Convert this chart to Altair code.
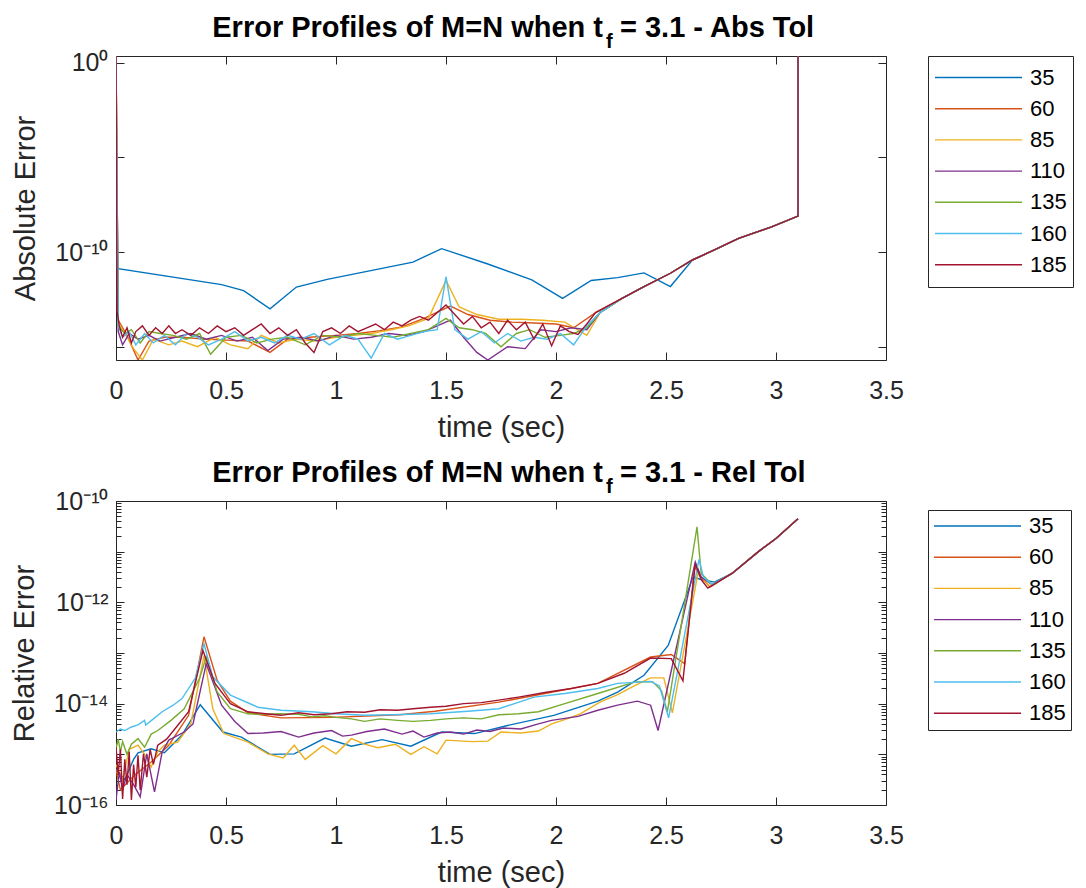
import altair as alt
import pandas as pd

SERIES = ["35", "60", "85", "110", "135", "160", "185"]
COLORS = ["#0072BD", "#D95319", "#EDB120", "#7E2F8E", "#77AC30", "#4DBEEE", "#A2142F"]
X_TICKS = [0, 0.5, 1, 1.5, 2, 2.5, 3, 3.5]

TITLE_ABS = ["Error Profiles of M=N when t", "f", "= 3.1 - Abs Tol"]
TITLE_REL = ["Error Profiles of M=N when t", "f", "= 3.1 - Rel Tol"]

# ---------------- top panel: absolute error (values are log10 exponents) ----------------
ABS_Y_LIMITS = [-15.7, 0.35]
ABS_Y_TICKS = [0, -5, -10, -15]
ABS_Y_LABELS = {0: "10⁰", -10: "10⁻¹⁰"}

ABS_T_35 = [0.0, 0.003, 0.48, 0.58, 0.70, 0.82, 0.96, 1.35, 1.48, 1.69, 1.89, 2.03, 2.16, 2.28, 2.40,
            2.52, 2.62, 2.72, 2.83, 2.98, 3.10, 3.10]
ABS_E_35 = [0.5, -10.87, -11.72, -12.04, -13.0, -11.85, -11.44, -10.53, -9.82, -10.63, -11.47, -12.45,
            -11.5, -11.35, -11.1, -11.82, -10.42, -9.89, -9.28, -8.67, -8.10, 0.5]

ABS_TAIL_T = [2.30, 2.40, 2.52, 2.62, 2.72, 2.83, 2.98, 3.10, 3.10]
ABS_TAIL_E = [-12.45, -11.82, -11.12, -10.42, -9.89, -9.28, -8.67, -8.10, 0.5]

ABS_T_60 = [0.0, 0.01, 0.05, 0.10, 0.15, 0.22, 0.30, 0.40, 0.50, 0.60, 0.70, 0.78, 0.88, 1.00, 1.10,
            1.20, 1.30, 1.40, 1.52, 1.60, 1.70, 1.80, 1.90, 2.00, 2.08, 2.18]
ABS_E_60 = [0.5, -13.6, -14.4, -15.7, -14.7, -14.5, -14.5, -14.6, -14.65, -14.7, -15.3, -14.6, -14.5,
            -14.4, -14.3, -14.15, -13.95, -13.5, -12.85, -13.3, -13.6, -13.7, -13.75, -13.8, -14.0, -13.2]

ABS_T_85 = [0.0, 0.01, 0.05, 0.08, 0.12, 0.17, 0.24, 0.30, 0.37, 0.45, 0.52, 0.60, 0.66, 0.74, 0.82,
            0.90, 1.00, 1.08, 1.16, 1.25, 1.33, 1.42, 1.50, 1.56, 1.64, 1.74, 1.84, 1.94, 2.04, 2.14, 2.20]
ABS_E_85 = [0.5, -13.7, -14.5, -15.1, -15.7, -14.6, -14.9, -14.7, -15.0, -14.5, -14.9, -15.1, -14.4,
            -14.8, -14.6, -14.7, -14.5, -14.4, -14.3, -14.1, -13.9, -13.5, -11.5, -12.9, -13.3, -13.55,
            -13.55, -13.6, -13.7, -14.4, -13.2]

ABS_T_110 = [0.0, 0.01, 0.03, 0.06, 0.10, 0.15, 0.20, 0.27, 0.34, 0.41, 0.48, 0.55, 0.62, 0.69, 0.76,
             0.84, 0.92, 1.00, 1.08, 1.16, 1.24, 1.32, 1.40, 1.46, 1.52, 1.58, 1.64, 1.69, 1.78, 1.86,
             1.93, 2.00, 2.07, 2.14, 2.20]
ABS_E_110 = [0.5, -14.2, -14.9, -14.3, -14.6, -14.4, -14.7, -14.5, -14.3, -14.6, -14.4, -14.7, -14.5,
             -15.2, -14.6, -14.5, -14.7, -14.4, -14.6, -14.5, -14.3, -14.4, -14.2, -13.9, -13.6, -14.5,
             -15.3, -15.7, -15.0, -15.1, -14.1, -14.2, -14.0, -14.1, -13.2]

ABS_T_135 = [0.0, 0.01, 0.04, 0.07, 0.11, 0.15, 0.20, 0.26, 0.32, 0.38, 0.43, 0.50, 0.57, 0.64, 0.71,
             0.78, 0.86, 0.94, 1.02, 1.10, 1.18, 1.26, 1.34, 1.42, 1.50, 1.56, 1.62, 1.68, 1.75, 1.82,
             1.88, 1.95, 2.02, 2.08, 2.14, 2.20]
ABS_E_135 = [0.5, -13.9, -14.3, -14.1, -14.8, -14.2, -14.3, -14.4, -14.6, -14.3, -15.4, -14.5, -14.4,
             -14.8, -14.6, -14.5, -14.9, -14.4, -14.5, -14.3, -14.4, -14.5, -14.3, -14.1, -13.5, -14.0,
             -14.1, -14.3, -15.0, -14.3, -14.1, -14.5, -14.4, -14.3, -14.0, -13.2]

ABS_T_160 = [0.0, 0.01, 0.03, 0.06, 0.09, 0.13, 0.17, 0.22, 0.27, 0.32, 0.37, 0.42, 0.48, 0.54, 0.60,
             0.66, 0.72, 0.78, 0.84, 0.90, 0.97, 1.04, 1.10, 1.16, 1.22, 1.28, 1.34, 1.40, 1.46, 1.50,
             1.54, 1.60, 1.66, 1.72, 1.78, 1.84, 1.90, 1.96, 2.02, 2.08, 2.14, 2.20]
ABS_E_160 = [0.5, -13.9, -14.5, -14.2, -14.9, -14.3, -14.8, -14.4, -14.9, -14.3, -14.5, -14.9, -14.6,
             -14.2, -14.7, -14.5, -14.8, -14.4, -14.6, -14.3, -14.9, -14.4, -14.6, -15.6, -14.3, -14.6,
             -14.4, -14.2, -14.1, -11.3, -14.1, -14.6, -14.2, -14.8, -14.3, -14.7, -14.5, -14.6, -14.3,
             -14.9, -13.9, -13.2]

ABS_T_185 = [0.0, 0.005, 0.015, 0.03, 0.05, 0.07, 0.09, 0.12, 0.15, 0.18, 0.21, 0.24, 0.27, 0.30,
             0.34, 0.38, 0.42, 0.46, 0.50, 0.54, 0.58, 0.62, 0.66, 0.70, 0.74, 0.78, 0.82, 0.86, 0.90,
             0.94, 0.98, 1.02, 1.06, 1.10, 1.14, 1.18, 1.22, 1.26, 1.30, 1.34, 1.38, 1.42, 1.46, 1.50,
             1.54, 1.58, 1.62, 1.66, 1.70, 1.74, 1.78, 1.82, 1.86, 1.90, 1.94, 1.98, 2.02, 2.06, 2.10,
             2.14, 2.18]
ABS_E_185 = [0.5, -13.1, -13.9, -14.5, -14.0, -14.8, -14.2, -13.9, -14.4, -14.0, -14.3, -13.9, -14.3,
             -14.1, -14.4, -14.0, -14.3, -13.9, -14.2, -14.0, -14.4, -14.1, -13.8, -14.3, -14.0, -14.4,
             -14.1, -14.8, -15.3, -14.2, -14.0, -14.3, -13.9, -14.2, -14.0, -13.8, -14.1, -13.7, -13.9,
             -13.6, -13.4, -13.6, -13.2, -12.8, -13.3, -13.8, -13.4, -14.0, -13.7, -14.3, -13.6, -14.1,
             -13.7, -14.6, -13.8, -14.95, -13.9, -14.2, -14.35, -13.8, -13.2]

# ---------------- bottom panel: relative error (log10 exponents) ----------------
REL_Y_LIMITS = [-16, -10]
REL_Y_LABELS = {-10: "10⁻¹⁰", -12: "10⁻¹²", -14: "10⁻¹⁴", -16: "10⁻¹⁶"}
REL_TAIL_T = [2.80, 2.92, 3.00, 3.10]
REL_TAIL_E = [-11.43, -11.0, -10.74, -10.35]

REL_T_35 = [0.0, 0.04, 0.08, 0.10, 0.16, 0.22, 0.30, 0.383, 0.486, 0.57, 0.70, 0.81, 0.95, 1.07, 1.21,
            1.34, 1.48, 1.63, 1.78, 1.99, 2.19, 2.28, 2.40, 2.51, 2.623, 2.66, 2.72]
REL_E_35 = [-15.3, -15.5, -15.1, -14.97, -14.89, -14.97, -14.62, -14.02, -14.56, -14.66, -15.0, -14.99,
            -14.68, -14.84, -14.71, -14.84, -14.56, -14.59, -14.43, -14.23, -13.95, -13.77, -13.44,
            -12.85, -11.5, -11.55, -11.6]

REL_T_60 = [0.0, 0.02, 0.085, 0.16, 0.24, 0.33, 0.40, 0.46, 0.52, 0.60, 0.75, 0.98, 1.29, 1.45, 1.74,
            1.95, 2.19, 2.43, 2.524, 2.585, 2.63, 2.66, 2.70]
REL_E_60 = [-15.3, -15.7, -15.41, -15.15, -14.82, -14.23, -12.68, -13.54, -13.95, -14.18, -14.28,
            -14.27, -14.22, -14.15, -13.97, -13.8, -13.6, -13.08, -13.03, -13.21, -11.3, -11.5, -11.7]

REL_T_85 = [0.0, 0.03, 0.06, 0.10, 0.13, 0.16, 0.19, 0.22, 0.28, 0.34, 0.40, 0.44, 0.49, 0.60, 0.69,
            0.76, 0.81, 0.86, 0.94, 1.00, 1.07, 1.13, 1.19, 1.27, 1.34, 1.40, 1.46, 1.50, 1.62, 1.69,
            1.75, 1.84, 1.92, 1.98, 2.05, 2.11, 2.20, 2.28, 2.36, 2.43, 2.49, 2.529, 2.645, 2.70]
REL_E_85 = [-15.2, -15.5, -14.9, -14.82, -15.0, -15.25, -14.95, -14.82, -14.76, -14.4, -13.05, -14.1,
            -14.59, -14.76, -14.99, -15.07, -14.82, -15.1, -14.83, -14.99, -14.69, -14.8, -14.87, -14.8,
            -15.0, -14.85, -14.99, -14.72, -14.75, -14.74, -14.56, -14.58, -14.54, -14.4, -14.3, -14.2,
            -13.97, -13.82, -13.64, -13.49, -13.49, -14.18, -11.43, -11.68]

REL_T_110 = [0.0, 0.015, 0.03, 0.05, 0.08, 0.11, 0.14, 0.175, 0.21, 0.24, 0.31, 0.35, 0.41, 0.48, 0.54,
             0.60, 0.67, 0.75, 0.83, 0.90, 0.98, 1.03, 1.07, 1.14, 1.22, 1.30, 1.35, 1.40, 1.46, 1.52,
             1.58, 1.64, 1.70, 1.76, 1.84, 1.92, 1.98, 2.10, 2.19, 2.28, 2.37, 2.43, 2.464, 2.633, 2.66,
             2.71]
REL_E_110 = [-15.9, -15.35, -15.7, -15.4, -15.6, -15.84, -14.99, -15.74, -14.95, -14.72, -14.56, -14.4,
             -13.21, -14.03, -14.35, -14.59, -14.58, -14.55, -14.66, -14.58, -14.53, -14.64, -14.62,
             -14.55, -14.5, -14.6, -14.54, -14.66, -14.58, -14.56, -14.6, -14.52, -14.55, -14.48, -14.5,
             -14.4, -14.33, -14.25, -14.13, -14.03, -13.95, -14.03, -14.53, -11.2, -11.5, -11.65]

REL_T_135 = [0.0, 0.01, 0.02, 0.03, 0.05, 0.07, 0.10, 0.13, 0.16, 0.19, 0.25, 0.31, 0.38, 0.41, 0.46,
             0.52, 0.60, 0.68, 0.75, 0.83, 0.89, 0.95, 1.0, 1.07, 1.13, 1.20, 1.28, 1.35, 1.43, 1.50,
             1.58, 1.66, 1.74, 1.83, 1.92, 2.04, 2.19, 2.36, 2.44, 2.479, 2.506, 2.641, 2.66, 2.71]
REL_E_135 = [-14.89, -14.7, -14.95, -14.75, -15.0, -14.8, -14.69, -14.86, -14.6, -14.53, -14.33, -14.1,
             -13.5, -13.08, -13.77, -14.1, -14.2, -14.21, -14.2, -14.21, -14.26, -14.24, -14.27, -14.3,
             -14.35, -14.3, -14.33, -14.35, -14.33, -14.3, -14.28, -14.3, -14.22, -14.2, -14.16, -14.0,
             -13.8, -13.57, -13.57, -13.74, -14.16, -10.51, -11.43, -11.65]

REL_T_160 = [0.0, 0.02, 0.04, 0.07, 0.10, 0.13, 0.135, 0.17, 0.21, 0.26, 0.30, 0.36, 0.40, 0.44, 0.52,
             0.645, 0.75, 0.89, 1.0, 1.13, 1.25, 1.43, 1.60, 1.74, 1.90, 2.04, 2.19, 2.28, 2.43, 2.47,
             2.512, 2.65, 2.67, 2.71]
REL_E_160 = [-14.56, -14.5, -14.53, -14.46, -14.42, -14.33, -14.42, -14.3, -14.16, -14.03, -13.9, -13.5,
             -12.82, -13.47, -13.83, -14.07, -14.13, -14.16, -14.2, -14.23, -14.22, -14.2, -14.15, -14.1,
             -13.87, -13.8, -13.7, -13.6, -13.56, -13.65, -14.28, -11.15, -11.5, -11.65]

REL_T_185 = [0.0, 0.01, 0.02, 0.03, 0.04, 0.05, 0.06, 0.07, 0.08, 0.09, 0.10, 0.11, 0.125, 0.14, 0.155,
             0.17, 0.19, 0.23, 0.28, 0.33, 0.395, 0.45, 0.52, 0.60, 0.68, 0.75, 0.83, 0.90, 0.98, 1.05,
             1.13, 1.20, 1.28, 1.35, 1.43, 1.50, 1.58, 1.66, 1.74, 1.83, 1.95, 2.07, 2.19, 2.31, 2.43,
             2.524, 2.577, 2.633, 2.66, 2.69]
REL_E_185 = [-14.85, -15.4, -14.9, -15.88, -15.1, -15.6, -14.95, -15.9, -15.2, -15.65, -15.02, -15.71,
             -14.99, -15.45, -14.9, -15.2, -14.82, -14.7, -14.43, -14.16, -12.95, -13.6, -14.0, -14.16,
             -14.2, -14.23, -14.18, -14.22, -14.2, -14.16, -14.17, -14.12, -14.13, -14.1, -14.07, -14.05,
             -14.0, -13.98, -13.93, -13.87, -13.78, -13.7, -13.6, -13.4, -13.1, -13.11, -13.55, -11.24,
             -11.55, -11.72]

ABS_SETS = [
    ("35", ABS_T_35, ABS_E_35),
    ("60", ABS_T_60 + ABS_TAIL_T, ABS_E_60 + ABS_TAIL_E),
    ("85", ABS_T_85 + ABS_TAIL_T, ABS_E_85 + ABS_TAIL_E),
    ("110", ABS_T_110 + ABS_TAIL_T, ABS_E_110 + ABS_TAIL_E),
    ("135", ABS_T_135 + ABS_TAIL_T, ABS_E_135 + ABS_TAIL_E),
    ("160", ABS_T_160 + ABS_TAIL_T, ABS_E_160 + ABS_TAIL_E),
    ("185", ABS_T_185 + ABS_TAIL_T, ABS_E_185 + ABS_TAIL_E),
]
REL_SETS = [
    ("35", REL_T_35 + REL_TAIL_T, REL_E_35 + REL_TAIL_E),
    ("60", REL_T_60 + REL_TAIL_T, REL_E_60 + REL_TAIL_E),
    ("85", REL_T_85 + REL_TAIL_T, REL_E_85 + REL_TAIL_E),
    ("110", REL_T_110 + REL_TAIL_T, REL_E_110 + REL_TAIL_E),
    ("135", REL_T_135 + REL_TAIL_T, REL_E_135 + REL_TAIL_E),
    ("160", REL_T_160 + REL_TAIL_T, REL_E_160 + REL_TAIL_E),
    ("185", REL_T_185 + REL_TAIL_T, REL_E_185 + REL_TAIL_E),
]


def build_frame(sets):
    rows = []
    for s, ts, es in sets:
        for i, (t, e) in enumerate(zip(ts, es)):
            rows.append({"series": s, "t": t, "v": 10.0 ** e, "i": i})
    return pd.DataFrame(rows)


def label_expr(mapping):
    parts = [f"abs(log(datum.value)/LN10 - ({k})) < 0.01 ? '{s}'" for k, s in mapping.items()]
    return " : ".join(parts) + " : ''"


TICK = 8
MINOR = 5
W, H = 770, 304
INK = "#262626"


def panel(df, ylim, yvals, yminor, ylabels, ytitle, title_parts, leg):
    xs = alt.Scale(domain=[0, 3.5], nice=False, zero=False)
    ys = alt.Scale(type="log", domain=[10.0 ** ylim[0], 10.0 ** ylim[1]], nice=False)
    lines = alt.Chart(df).mark_line(strokeWidth=1.4, clip=True).encode(
        x=alt.X("t:Q", scale=xs,
                axis=alt.Axis(values=X_TICKS, format="~g", title="time (sec)", offset=-TICK,
                              tickSize=TICK, domain=False, grid=False, labelPadding=18,
                              labelFlush=False, titlePadding=10)),
        y=alt.Y("v:Q", scale=ys,
                axis=alt.Axis(values=yvals, labelExpr=label_expr(ylabels), title=ytitle,
                              offset=-TICK, tickSize=TICK, domain=False, grid=False,
                              labelFlush=False, labelPadding=8, titlePadding=14)),
        color=alt.Color("series:N", scale=alt.Scale(domain=SERIES, range=COLORS),
                        legend=alt.Legend(title=None, orient="none", legendX=812,
                                          legendY=leg["y"],
                                          symbolType="stroke", symbolSize=87 * 87,
                                          symbolStrokeWidth=1.4, labelFontSize=22,
                                          labelColor="black", padding=leg["pad"],
                                          rowPadding=leg["row"], clipHeight=leg["clip"],
                                          labelOffset=7, strokeColor=INK, fillColor="white",
                                          cornerRadius=0)),
        order=alt.Order("i:Q"),
    )
    ghost = alt.Chart(df).mark_line(opacity=0).encode(
        x=alt.X("t:Q", scale=xs,
                axis=alt.Axis(orient="top", values=X_TICKS, labels=False, title=None,
                              offset=-TICK, tickSize=TICK, domain=False, grid=False)),
        y=alt.Y("v:Q", scale=ys,
                axis=alt.Axis(orient="right", values=yvals, labels=False, title=None,
                              offset=-TICK, tickSize=TICK, domain=False, grid=False)),
        detail="series:N",
    )
    layers = [lines, ghost]
    if yminor:
        minor_l = alt.Chart(df).mark_line(opacity=0).encode(
            x=alt.X("t:Q", scale=xs, axis=None),
            y=alt.Y("v:Q", scale=ys,
                    axis=alt.Axis(orient="left", values=yminor, labels=False, title=None,
                                  offset=-MINOR, tickSize=MINOR, domain=False, grid=False)),
            detail="series:N",
        )
        minor_r = alt.Chart(df).mark_line(opacity=0).encode(
            x=alt.X("t:Q", scale=xs, axis=None),
            y=alt.Y("v:Q", scale=ys,
                    axis=alt.Axis(orient="right", values=yminor, labels=False, title=None,
                                  offset=-MINOR, tickSize=MINOR, domain=False, grid=False)),
            detail="series:N",
        )
        layers += [minor_l, minor_r]
    blank = alt.Data(values=[{}])
    t1 = alt.Chart(blank).mark_text(text=title_parts[0], fontSize=29, fontWeight="bold",
                                    align="right", baseline="alphabetic", color="black").encode(
        x=alt.value(487), y=alt.value(-19))
    t2 = alt.Chart(blank).mark_text(text=title_parts[1], fontSize=20, fontWeight="bold",
                                    align="left", baseline="alphabetic", color="black").encode(
        x=alt.value(490), y=alt.value(-8))
    t3 = alt.Chart(blank).mark_text(text=title_parts[2], fontSize=29, fontWeight="bold",
                                    align="left", baseline="alphabetic", color="black").encode(
        x=alt.value(504), y=alt.value(-19))
    layers += [t1, t2, t3]
    return alt.layer(*layers).resolve_axis(
        x="independent", y="independent").properties(width=W, height=H)


abs_df = build_frame(ABS_SETS)
rel_df = build_frame(REL_SETS)

rel_major = [10.0 ** k for k in range(-16, -9)]
rel_minor = [m * 10.0 ** k for k in range(-16, -10) for m in range(2, 10)]

top = panel(abs_df, ABS_Y_LIMITS, [10.0 ** k for k in ABS_Y_TICKS], [], ABS_Y_LABELS,
            "Absolute Error", TITLE_ABS, {"y": 0, "pad": 6, "row": 0.2, "clip": 31})
bottom = panel(rel_df, REL_Y_LIMITS, rel_major, rel_minor, REL_Y_LABELS, "Relative Error",
               TITLE_REL, {"y": 9, "pad": 5, "row": 9.2, "clip": 22})

chart = alt.vconcat(top, bottom, spacing=15).resolve_scale(
    x="independent", y="independent").resolve_legend(color="independent").properties(
    padding={"left": 9, "top": 13, "right": 5, "bottom": 0}
).configure(font="Liberation Sans").configure_view(stroke=INK, strokeWidth=1).configure_axis(
    labelFontSize=25, labelColor=INK, titleFontSize=29, titleFontWeight="normal",
    titleColor=INK, tickColor=INK, tickWidth=1, labelFont="Liberation Sans",
    titleFont="Liberation Sans"
).configure_legend(labelFont="Liberation Sans")

chart.save("out.html", embed_options={"renderer": "svg", "actions": False})
